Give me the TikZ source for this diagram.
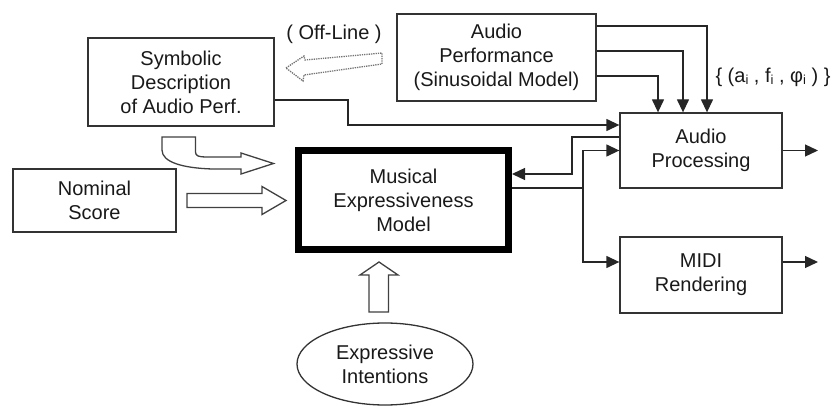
\documentclass[tikz,border=0pt]{standalone}
\usepackage{fontspec}
\setmainfont{Liberation Sans}
\usetikzlibrary{arrows.meta,shapes.geometric}

\tikzset{
  txt/.style={font=\fontsize{20}{24}\selectfont, align=center, text=black!90},
  box/.style={txt, draw=black!80, line width=1.3pt, rectangle, inner sep=0pt},
  bigbox/.style={txt, draw=black, line width=7pt, rectangle, inner sep=0pt},
  oval/.style={txt, draw=black!80, line width=1.3pt, ellipse, inner sep=0pt},
  link/.style={draw=black!85, line width=1.3pt},
  arr/.style={link, -{Triangle[length=13pt,width=12pt]}},
  hollow/.style={draw=black!75, line width=1.3pt, fill=white, line join=miter},
  offline/.style={draw=black!55, line width=1.3pt, densely dotted, fill=white},
}
% two centred lines, lifted a little inside their box
\newcommand{\liftedpair}[2]{\raisebox{4pt}{\begin{tabular}{@{}c@{}}#1\\#2\end{tabular}}}

\begin{document}
\begin{tikzpicture}[x=1pt, y=-1pt]
  \useasboundingbox (0,0) rectangle (839,406);

  % blocks
  \node[box, minimum width=186pt, minimum height=88pt] (sym) at (181,82)
    {Symbolic\\Description\\of Audio Perf.};
  \node[box, minimum width=199pt, minimum height=87pt] (perf) at (496.5,57.5)
    {Audio\\Performance\\(Sinusoidal Model)};
  \node[box, minimum width=162pt, minimum height=75pt] (proc) at (701,150.5)
    {\liftedpair{Audio}{Processing}};
  \node[box, minimum width=162pt, minimum height=76pt] (midi) at (701,275)
    {\liftedpair{MIDI}{Rendering}};
  \node[box, minimum width=163pt, minimum height=63pt] (nom) at (94.5,200.5)
    {Nominal\\Score};
  \node[bigbox, minimum width=210pt, minimum height=98.5pt] (mem) at (403.5,200.25)
    {Musical\\Expressiveness\\Model};
  \node[oval, minimum width=176pt, minimum height=82pt] (intent) at (385,364)
    {Expressive\\Intentions};

  % labels
  \node[txt] (offlbl) at (334,34) {( Off-Line )};
  \node[txt] (params) at (773,77)
    {\{ (a\raisebox{-0.25ex}{\fontsize{13}{13}\selectfont i} ,
       f\raisebox{-0.25ex}{\fontsize{13}{13}\selectfont i} ,
       φ\raisebox{-0.25ex}{\fontsize{13}{13}\selectfont i} ) \}};

  % bend points and free ends
  \coordinate (j1) at (348,125);
  \coordinate (j2) at (572,174);
  \coordinate (j3) at (583,188);
  \coordinate (outA) at (818,150.5);
  \coordinate (outB) at (818,262);

  % symbolic description -> audio processing
  \draw[arr] ([yshift=-18pt]sym.east) -| (j1) -- ([yshift=25.5pt]proc.west);

  % sinusoidal parameters -> audio processing
  \draw[arr] ([yshift=31.5pt]perf.east) -| ([xshift=6pt]proc.north);
  \draw[arr] ([yshift=6.5pt]perf.east) -| ([xshift=-18pt]proc.north);
  \draw[arr] ([yshift=-18.5pt]perf.east) -| ([xshift=-43pt]proc.north);

  % feedback from audio processing to the model
  \draw[arr] ([yshift=13.5pt]proc.west) -| (j2) -- ([yshift=26.25pt]mem.east);

  % model -> renderers
  \draw[link] ([yshift=12.25pt]mem.east) -- (j3);
  \draw[arr] (j3) |- (proc.west);
  \draw[arr] (j3) |- ([yshift=13pt]midi.west);

  % outputs
  \draw[arr] (proc.east) -- (outA);
  \draw[arr] ([yshift=13pt]midi.east) -- (outB);

  % hollow block arrows into the model
  \draw[hollow] (187,193.5) -- (262,193.5) -- (262,186.5) -- (286,200.5)
    -- (262,214.5) -- (262,207.5) -- (187,207.5) -- cycle;
  \draw[hollow] (162,137) -- (195.5,137) -- (195.5,152)
    .. controls (195.5,156) and (199,157) .. (206,157) -- (241,157)
    -- (241,153) -- (273.5,163.5) -- (241,174) -- (241,169) -- (212,169)
    .. controls (182,168) and (162,162) .. (162,150) -- cycle;
  \draw[hollow] (369,312) -- (369,275) -- (360,275) -- (379,262)
    -- (398,275) -- (388.5,275) -- (388.5,312) -- cycle;

  % off-line extraction arrow
  \draw[offline] (286,68) -- (304,56) -- (305,60) -- (382,53) -- (382,64)
    -- (304,75) -- (303,81) -- cycle;
\end{tikzpicture}
\end{document}
